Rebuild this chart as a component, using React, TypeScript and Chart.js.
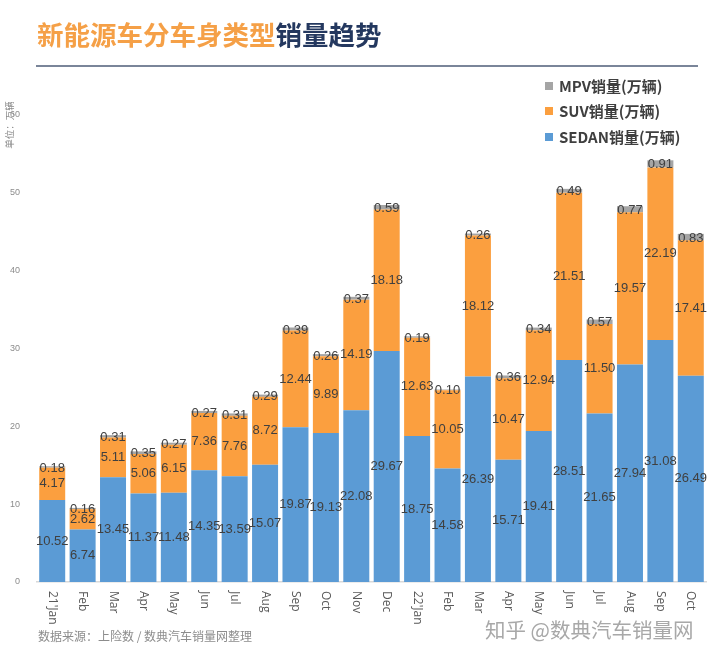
import React, { useEffect, useRef } from "react";
import { Chart, registerables } from "chart.js";

Chart.register(...registerables);

const categories = ["21'Jan", "Feb", "Mar", "Apr", "May", "Jun", "Jul", "Aug", "Sep", "Oct", "Nov", "Dec", "22'Jan", "Feb", "Mar", "Apr", "May", "Jun", "Jul", "Aug", "Sep", "Oct"];
const sedan = [10.52, 6.74, 13.45, 11.37, 11.48, 14.35, 13.59, 15.07, 19.87, 19.13, 22.08, 29.67, 18.75, 14.58, 26.39, 15.71, 19.41, 28.51, 21.65, 27.94, 31.08, 26.49];
const suv = [4.17, 2.62, 5.11, 5.06, 6.15, 7.36, 7.76, 8.72, 12.44, 9.89, 14.19, 18.18, 12.63, 10.05, 18.12, 10.47, 12.94, 21.51, 11.5, 19.57, 22.19, 17.41];
const mpv = [0.18, 0.16, 0.31, 0.35, 0.27, 0.27, 0.31, 0.29, 0.39, 0.26, 0.37, 0.59, 0.19, 0.1, 0.26, 0.36, 0.34, 0.49, 0.57, 0.77, 0.91, 0.83];
const seriesNames = ["SEDAN销量(万辆)", "SUV销量(万辆)", "MPV销量(万辆)"];
const titleOrange = "新能源车分车身类型";
const titleNavy = "销量趋势";
const unitLabel = "单位：万辆";
const sourceNote = "数据来源：上险数 / 数典汽车销量网整理";
const watermark = "知乎 @数典汽车销量网";

const BLUE = "#5B9BD5";
const ORANGE = "#FB9F3F";
const GREY = "#A5A5A5";
const CJK = "'Noto Sans CJK SC', 'Noto Sans', sans-serif";

const decorPlugin = {
  id: "decor",
  afterDatasetsDraw(chart: any) {
    const ctx = chart.ctx;
    ctx.save();
    ctx.font = "13px 'Liberation Sans', Arial, sans-serif";
    ctx.fillStyle = "#404040";
    ctx.textAlign = "center";
    ctx.textBaseline = "middle";
    chart.data.datasets.forEach((ds: any, di: number) => {
      const meta = chart.getDatasetMeta(di);
      meta.data.forEach((el: any, i: number) => {
        const v = ds.data[i];
        const yc = (el.y + el.base) / 2;
        ctx.fillText(Number(v).toFixed(2), el.x, yc + (di === 2 ? 1 : 0));
      });
    });
    // x labels rotated clockwise
    const xs = chart.scales.x;
    ctx.font = "12px 'Open Sans', 'Noto Sans', sans-serif";
    ctx.fillStyle = "#595959";
    categories.forEach((c, i) => {
      const x = xs.getPixelForTick(i);
      ctx.save();
      ctx.translate(x, chart.chartArea.bottom + 9);
      ctx.rotate(Math.PI / 2);
      ctx.textAlign = "left";
      ctx.textBaseline = "middle";
      ctx.fillText(c, 0, 0);
      ctx.restore();
    });
    ctx.restore();
  },
  afterDraw(chart: any) {
    const ctx = chart.ctx;
    ctx.save();
    // title
    ctx.textBaseline = "middle";
    ctx.textAlign = "left";
    ctx.font = `bold 26.5px ${CJK}`;
    ctx.fillStyle = "#F5A047";
    ctx.fillText(titleOrange, 37, 35);
    const w = ctx.measureText(titleOrange).width;
    ctx.fillStyle = "#24385F";
    ctx.fillText(titleNavy, 37 + w, 35);
    // underline
    ctx.strokeStyle = "#7A8599";
    ctx.lineWidth = 2;
    ctx.beginPath();
    ctx.moveTo(36, 66);
    ctx.lineTo(698, 66);
    ctx.stroke();
    // legend
    const items = [
      { t: seriesNames[2], c: GREY, y: 86 },
      { t: seriesNames[1], c: ORANGE, y: 111 },
      { t: seriesNames[0], c: BLUE, y: 137 },
    ];
    ctx.font = `bold 15px ${CJK}`;
    items.forEach((it) => {
      ctx.fillStyle = it.c;
      ctx.fillRect(545, it.y - 4, 8, 8);
      ctx.fillStyle = "#3F3F3F";
      ctx.fillText(it.t, 559, it.y);
    });
    // unit label
    ctx.save();
    ctx.translate(9, 125);
    ctx.rotate(-Math.PI / 2);
    ctx.textAlign = "center";
    ctx.font = `9.5px ${CJK}`;
    ctx.fillStyle = "#8C8C8C";
    ctx.fillText(unitLabel, 0, 0);
    ctx.restore();
    // footer
    ctx.font = `12px ${CJK}`;
    ctx.fillStyle = "#8C8C8C";
    ctx.fillText(sourceNote, 38, 636);
    ctx.font = `20.5px ${CJK}`;
    ctx.fillStyle = "#A8A8A8";
    ctx.fillText(watermark, 485, 630);
    ctx.restore();
  },
};

export default function App() {
  const ref = useRef<HTMLCanvasElement>(null);
  useEffect(() => {
    document.body.style.margin = "0";
    const chart = new Chart(ref.current!, {
      type: "bar",
      data: {
        labels: categories,
        datasets: [
          { label: seriesNames[0], data: sedan, backgroundColor: BLUE },
          { label: seriesNames[1], data: suv, backgroundColor: ORANGE },
          { label: seriesNames[2], data: mpv, backgroundColor: GREY },
        ],
      },
      options: {
        responsive: false,
        animation: false,
        layout: { padding: { top: 115, bottom: 77, right: 14, left: 0 } },
        datasets: { bar: { barPercentage: 0.855, categoryPercentage: 1 } },
        plugins: { legend: { display: false }, tooltip: { enabled: false }, title: { display: false } },
        scales: {
          x: {
            stacked: true,
            grid: { display: false },
            border: { display: true, color: "#D9D9D9", width: 1.5 },
            ticks: { display: false },
            afterFit: (s: any) => { s.height = 0; },
          },
          y: {
            stacked: true,
            min: 0,
            max: 60,
            grid: { display: false },
            border: { display: false },
            ticks: {
              stepSize: 10,
              padding: 9,
              color: "#8C8C8C",
              font: { size: 9, family: "'Liberation Sans', Arial, sans-serif" },
            },
            afterFit: (s: any) => { s.width = 37; },
          },
        },
      },
      plugins: [decorPlugin],
    });
    return () => chart.destroy();
  }, []);
  return (
    <div style={{ position: "absolute", left: 0, top: 0, width: 720, height: 659, background: "#fff" }}>
      <canvas ref={ref} width={720} height={659} />
    </div>
  );
}
